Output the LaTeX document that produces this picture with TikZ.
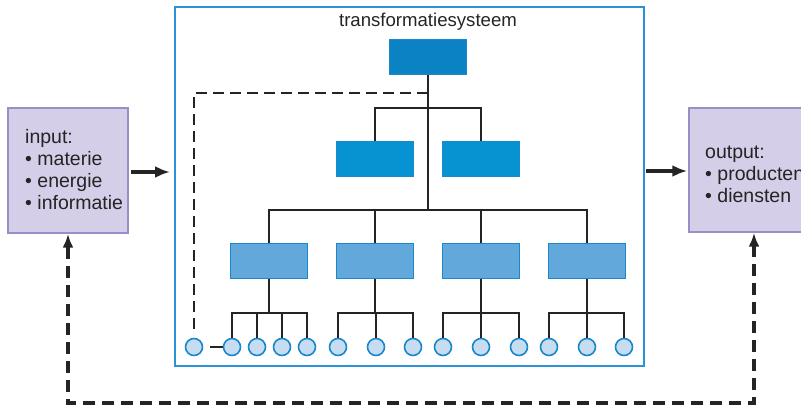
\documentclass[tikz,border=0pt]{standalone}
\usepackage{fontspec}
\setmainfont{Liberation Sans}
\usetikzlibrary{arrows.meta}

\definecolor{framecol}{HTML}{2A93D5}
\definecolor{topcol}{HTML}{0A82C4}
\definecolor{midcol}{HTML}{0792D2}
\definecolor{lowcol}{HTML}{62A8DA}
\definecolor{edgecol}{HTML}{1A88CC}
\definecolor{leafcol}{HTML}{C6DCF1}
\definecolor{envcol}{HTML}{D5CEE8}
\definecolor{envline}{HTML}{9A8EC6}
\definecolor{ink}{HTML}{262324}

\tikzset{
  envbox/.style={draw=envline, fill=envcol, line width=1.5pt, inner sep=0pt},
  listtext/.style={anchor=west, align=left, inner sep=0pt, text=ink,
    font=\fontsize{19.5}{22}\selectfont},
  unit/.style={fill=#1, draw=edgecol, line width=1pt, inner sep=0pt,
    minimum width=77pt, minimum height=35pt},
  leaf/.style={circle, draw=edgecol, fill=leafcol, line width=1.6pt,
    minimum size=17pt, inner sep=0pt},
  tree/.style={draw=ink, line width=1.7pt},
  flow/.style={draw=ink, line width=3.4pt, -{Latex[length=15pt,width=12pt]}},
  feedback/.style={draw=ink, line width=3.4pt, dash pattern=on 12pt off 7pt,
    {Latex[length=14pt,width=11pt]}-{Latex[length=14pt,width=11pt]}}
}

\begin{document}
\begin{tikzpicture}[x=1pt,y=-1pt]
  \useasboundingbox (0,0) rectangle (801,406);
  \clip (0,0) rectangle (801,406);

  % the environment on both sides
  \node[envbox, minimum width=120pt, minimum height=125pt] (input) at (68,170.5) {};
  \node[listtext] (inputlist) at (25,170)
    {input:\\\textbullet\ materie\\\textbullet\ energie\\\textbullet\ informatie};
  \node[envbox, minimum width=140pt, minimum height=124pt] (output) at (759,170) {};
  \node[listtext] (outputlist) at (705,174)
    {output:\\\textbullet\ producten\\\textbullet\ diensten};

  % the system itself
  \node[draw=framecol, line width=2pt, minimum width=469pt, minimum height=359pt,
    inner sep=0pt] (sys) at (409.5,186.5) {};
  \node[text=ink, font=\fontsize{18.6}{22}\selectfont] (title) at (428,22)
    {transformatiesysteem};

  \node[unit=topcol] (top) at (428,57.5) {};
  \node[unit=midcol] (mid1) at (375,159.5) {};
  \node[unit=midcol] (mid2) at (481,159.5) {};
  \foreach \x [count=\i] in {269,375,481,587}
    \node[unit=lowcol] (low\i) at (\x,261.5) {};

  \node[leaf] (c0) at (194,347) {};
  \foreach \x [count=\i] in {232,257,282,307,338,376,413,443,481,519,549,587,624}
    \node[leaf] (c\i) at (\x,347) {};

  % lines of command
  \coordinate (hub1) at (428,108);
  \coordinate (hub2) at (428,210);
  \draw[tree] (top.south) -- (hub2);
  \draw[tree] (mid1.north) |- (hub1) -| (mid2.north);
  \draw[tree] (low1.north) |- (hub2) -| (low4.north);
  \draw[tree] (low2.north) -- (low2.north |- hub2);
  \draw[tree] (low3.north) -- (low3.north |- hub2);
  \foreach \b/\leaves in {low1/{1,2,3,4},low2/{5,6,7},low3/{8,9,10},low4/{11,12,13}} {
    \draw[tree] (\b.south) -- (\b.south |- 0,313);
    \foreach \i in \leaves
      \draw[tree] (c\i.north) |- (\b.south |- 0,313);
  }
  \draw[tree] ([xshift=7pt]c0.east) -- (c1.west);
  \draw[tree, dash pattern=on 11pt off 6pt] (top.south |- 0,93) -| ([yshift=7pt]c0.north);

  % input, output and feedback
  \draw[flow] ([xshift=2pt,yshift=-1.5pt]input.east) -- ([xshift=-4pt,yshift=-1.5pt]input.east -| sys.west);
  \draw[flow] ([xshift=1pt,yshift=-1pt]sys.east |- output.west) -- ([xshift=-1pt,yshift=-1pt]output.west);
  \coordinate (back) at (754,403);
  \draw[feedback] (output.south -| back) -- (back) -| (input.south);
\end{tikzpicture}
\end{document}
